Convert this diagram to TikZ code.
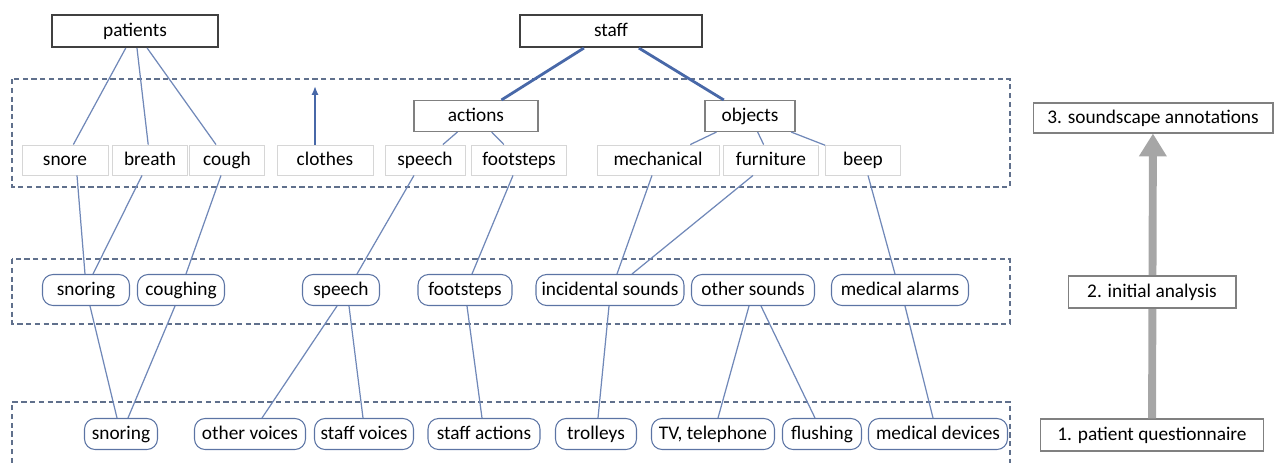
\documentclass[tikz,border=0pt]{standalone}
\usepackage{fontspec}
\setmainfont{Carlito}
\usepackage{tikz}
\usetikzlibrary{arrows.meta}
\definecolor{linkblue}{RGB}{112,136,184}
\definecolor{staffblue}{RGB}{72,104,168}
\definecolor{roundblue}{RGB}{92,116,164}
\definecolor{dashgray}{RGB}{96,112,140}
\definecolor{boxgray}{RGB}{128,128,128}
\definecolor{lightbox}{RGB}{214,214,214}
\definecolor{darkbox}{RGB}{64,64,64}
\definecolor{flowgray}{RGB}{166,166,166}
\tikzset{
	every node/.style={font=\fontsize{11}{13}\selectfont, inner sep=0pt, text height=9pt, text depth=2.6pt},
	source/.style={draw=darkbox, line width=1.2pt, minimum height=0.64cm},
	group/.style={draw=boxgray, line width=0.6pt, minimum height=0.62cm},
	tag/.style={draw=lightbox, line width=0.5pt, minimum height=0.6cm},
	sound/.style={draw=roundblue, line width=0.6pt, rounded corners=6pt, minimum height=0.62cm},
	stage/.style={draw=boxgray, line width=0.6pt, fill=white, minimum height=0.64cm},
	layer/.style={draw=dashgray, line width=0.6pt, dash pattern=on 3pt off 2pt},
	link/.style={draw=linkblue, line width=0.7pt},
	strong link/.style={draw=staffblue, line width=1.6pt}
}

\begin{document}
\begin{tikzpicture}[x=0.02cm, y=-0.02cm]
	\useasboundingbox (0,0) rectangle (1275,463);
	% dashed layers
	\draw[layer] (12,79) rectangle (1010,187);
	\draw[layer] (12,259) rectangle (1010,324);
	\draw[layer] (12,463) -- (12,402) -- (1010,402) -- (1010,463);

	% sources and groups
	\node[source, minimum width=3.32cm] (patients)   at (135,31)  {patients};
	\node[source, minimum width=3.64cm] (staff)      at (611,31)  {staff};
	\node[group, minimum width=2.48cm]  (actions)    at (476,116) {actions};
	\node[group, minimum width=1.8cm]   (objects)    at (750,116) {objects};

	% 3. soundscape annotations
	\node[tag, minimum width=1.72cm]    (snore)      at (65,160)  {snore};
	\node[tag, minimum width=1.5cm]     (breath)     at (150,160) {breath};
	\node[tag, minimum width=1.5cm]     (cough)      at (227,160) {cough};
	\node[tag, minimum width=1.92cm]    (clothes)    at (325,160) {clothes};
	\node[tag, minimum width=1.6cm]     (speechA)    at (425,160) {speech};
	\node[tag, minimum width=1.9cm]     (footstepsA) at (519,160) {footsteps};
	\node[tag, minimum width=2.44cm]    (mechanical) at (658,160) {mechanical};
	\node[tag, minimum width=1.9cm]     (furniture)  at (771,160) {furniture};
	\node[tag, minimum width=1.5cm]     (beep)       at (863,160) {beep};

	% 2. initial analysis
	\node[sound, minimum width=1.74cm]  (snoringB)    at (86,290)  {snoring};
	\node[sound, minimum width=1.74cm]  (coughing)    at (181,290) {coughing};
	\node[sound, minimum width=1.54cm]  (speechB)     at (341,290) {speech};
	\node[sound, minimum width=1.88cm]  (footstepsB)  at (465,290) {footsteps};
	\node[sound, minimum width=2.96cm]  (incidental)  at (610,290) {incidental sounds};
	\node[sound, minimum width=2.46cm]  (othersounds) at (753,290) {other sounds};
	\node[sound, minimum width=2.74cm]  (alarms)      at (900,290) {medical alarms};

	% 1. patient questionnaire
	\node[sound, minimum width=1.46cm]  (snoringC)     at (121,434) {snoring};
	\node[sound, minimum width=2.22cm]  (othervoices)  at (250,434) {other voices};
	\node[sound, minimum width=1.98cm]  (staffvoices)  at (364,434) {staff voices};
	\node[sound, minimum width=2.24cm]  (staffactions) at (484,434) {staff actions};
	\node[sound, minimum width=1.62cm]  (trolleys)     at (596,434) {trolleys};
	\node[sound, minimum width=2.46cm]  (tv)           at (713,434) {TV, telephone};
	\node[sound, minimum width=1.58cm]  (flushing)     at (822,434) {flushing};
	\node[sound, minimum width=2.78cm]  (devices)      at (938,434) {medical devices};

	% stages
	\node[stage, minimum width=4.8cm, minimum height=0.6cm] (annot) at (1153,118) {3. soundscape annotations};
	\node[stage, minimum width=4.46cm] (questionnaire) at (1152,435) {1. patient questionnaire};
	\draw[flowgray, line width=4.5pt, -{Triangle[width=15pt,length=13pt]}] (questionnaire) -- (annot);
	\node[stage, minimum width=3.36cm] (analysis) at (1152,292) {2. initial analysis};

	% tree links
	\path[link] (patients) edge (snore) edge (breath) edge (cough);
	\path[strong link] (staff) edge (actions) edge (objects);
	\path[link] (actions) edge (speechA) edge (footstepsA);
	\path[link] (objects) edge (mechanical) edge (furniture) edge (beep);
	\coordinate (clothestip) at (315,86);
	\draw[strong link, line width=1.2pt, -{Latex[length=5pt,width=4pt]}] ([shift={(-10,0)}]clothes.north) -- (clothestip);

	% links between layers
	\foreach \a/\sa/\b/\sb in {snore/12/snoringB/-1, breath/-8/snoringB/7, cough/-6/coughing/5,
		speechA/-11/speechB/16, footstepsA/-6/footstepsB/7, mechanical/-6/incidental/7,
		furniture/-18/incidental/22, beep/5/alarms/-5,
		snoringB/4/snoringC/-4, coughing/-6/snoringC/7, speechB/-4/othervoices/12,
		speechB/8/staffvoices/-1, footstepsB/2/staffactions/-2, incidental/-1/trolleys/2,
		othersounds/-4/tv/5, othersounds/8/flushing/-7, alarms/5/devices/-5}
		\draw[link] ([shift={(\sa,0)}]\a.south) -- ([shift={(\sb,0)}]\b.north);
\end{tikzpicture}
\end{document}
